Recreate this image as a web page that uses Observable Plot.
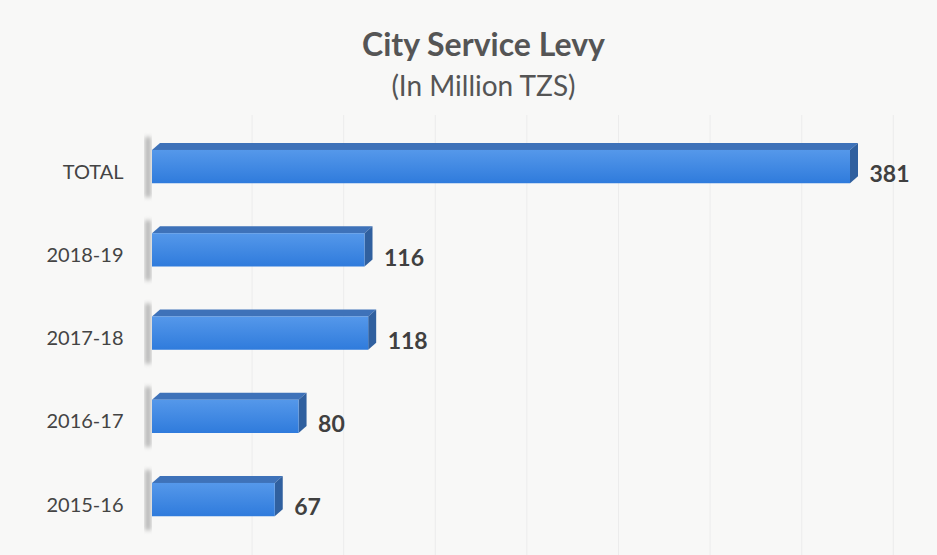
<!DOCTYPE html>
<html>
<head>
<meta charset="utf-8">
<script src="https://cdn.jsdelivr.net/npm/d3@7"></script>
<script src="https://cdn.jsdelivr.net/npm/@observablehq/plot@0.6"></script>
<style>
  html, body { margin: 0; padding: 0; background: #f8f8f7; }
  #wrap { position: relative; width: 937px; height: 555px; overflow: hidden; font-family: Lato, "Open Sans", sans-serif; }
  #title { position: absolute; left: 30px; width: 907px; top: 28px; text-align: center; font-size: 32px; line-height: 32px; font-weight: bold; color: #555; }
  #subtitle { position: absolute; left: 30px; width: 907px; top: 71px; text-align: center; font-size: 28px; line-height: 28px; color: #555; }
  #chart { position: absolute; left: 0; top: 115px; }
</style>
</head>
<body>
<div id="wrap">
  <div id="title">City Service Levy</div>
  <div id="subtitle">(In Million TZS)</div>
  <div id="chart"></div>
</div>
<script>
const categories = ["TOTAL", "2018-19", "2017-18", "2016-17", "2015-16"];
const values = [381, 116, 118, 80, 67];
const gridTicks = [50, 100, 150, 200, 250, 300, 350, 400];

const data = categories.map((c, i) => ({cat: c, value: values[i]}));

const DX = 8, DY = 7;
const PAD = 0.6;

function bars3d(index, scales, vals, dimensions, context) {
  const x = scales.x, y = scales.y;
  const step = y(categories[1]) - y(categories[0]);
  const bw = step * (1 - PAD);
  const g = d3.create("svg:g");
  const defs = g.append("defs");
  const grad = defs.append("linearGradient").attr("id", "front").attr("x1", 0).attr("y1", 0).attr("x2", 0).attr("y2", 1);
  grad.append("stop").attr("offset", "0%").attr("stop-color", "#5598ea");
  grad.append("stop").attr("offset", "100%").attr("stop-color", "#2f7bdc");
  defs.append("filter").attr("id", "blur").append("feGaussianBlur").attr("stdDeviation", 2);
  for (const d of data) {
    const x0 = x(0), x1 = x(d.value), y0 = y(d.cat), y1 = y0 + bw;
    g.append("rect").attr("x", x0 - 7).attr("y", y0 - DY - 6).attr("width", 6).attr("height", bw + DY + 20)
      .attr("fill", "#777").attr("opacity", 0.5).attr("filter", "url(#blur)");
    g.append("polygon").attr("points", [[x0, y0], [x0 + DX, y0 - DY], [x1 + DX, y0 - DY], [x1, y0]].map(p => p.join(",")).join(" "))
      .attr("fill", "#3e72b9");
    g.append("polygon").attr("points", [[x1, y0], [x1 + DX, y0 - DY], [x1 + DX, y1 - DY], [x1, y1]].map(p => p.join(",")).join(" "))
      .attr("fill", "#30609f");
    g.append("rect").attr("x", x0).attr("y", y0).attr("width", x1 - x0).attr("height", bw).attr("fill", "url(#front)");
  }
  return g.node();
}

const chart = Plot.plot({
  width: 937,
  height: 440,
  marginLeft: 152,
  marginRight: 87,
  marginTop: 0,
  marginBottom: 0,
  style: {background: "transparent", fontFamily: "Lato, 'Open Sans', sans-serif"},
  x: {domain: [0, 381], axis: null},
  y: {type: "band", domain: categories, range: [-15, 451.2], padding: PAD, round: false, axis: null},
  marks: [
    Plot.ruleX(gridTicks, {x: d => d, dx: DX, stroke: "#ececec", strokeWidth: 1}),
    bars3d,
    Plot.text(data, {x: 0, y: "cat", text: "cat", textAnchor: "end", dx: -29, dy: 5, fontSize: 20, fill: "#444"}),
    Plot.text(data, {x: "value", y: "cat", text: d => String(d.value), textAnchor: "start", dx: 19, dy: 8, fontSize: 23, fontWeight: "bold", fill: "#404040"})
  ]
});
document.getElementById("chart").appendChild(chart);
</script>
</body>
</html>
